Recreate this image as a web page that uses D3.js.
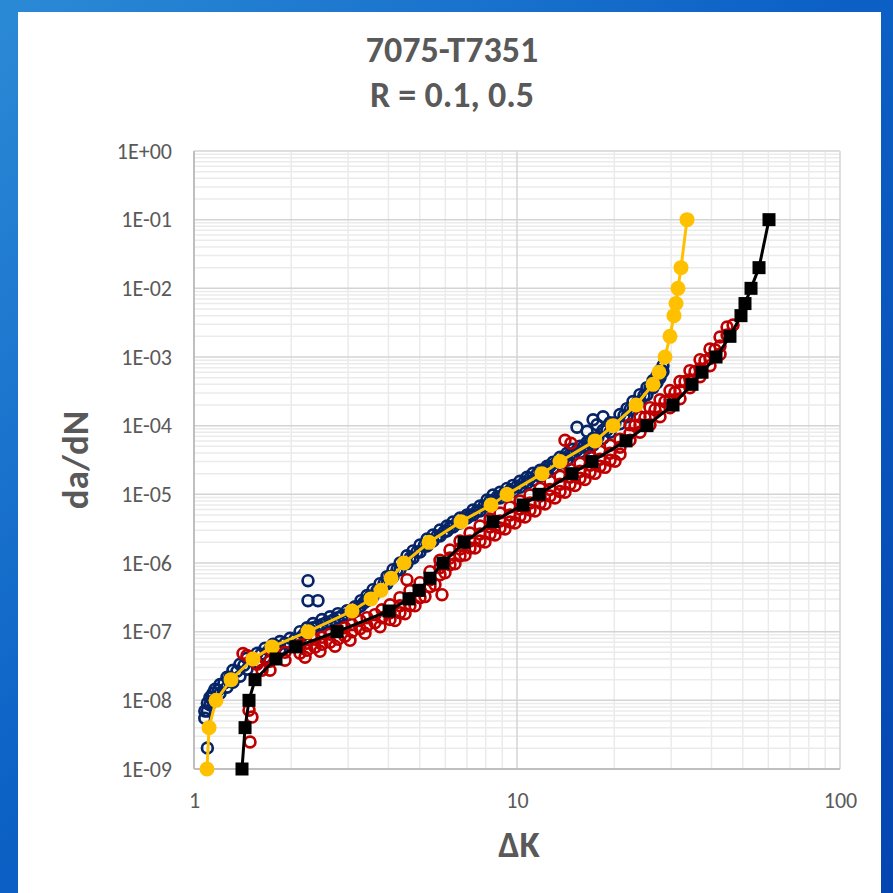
<!DOCTYPE html>
<html>
<head>
<meta charset="utf-8">
<script src="https://cdn.jsdelivr.net/npm/d3@7"></script>
<style>
  html, body { margin: 0; padding: 0; background: #0a56bd; }
  svg { display: block; }
  .lbl { font-family: Carlito, Calibri, "Liberation Sans Narrow", "DejaVu Sans Condensed", "Liberation Sans", sans-serif; fill: #595959; }
</style>
</head>
<body>
<svg id="chart" width="893" height="893"></svg>
<script>
// ---- data ----
const titleLines = ["7075-T7351", "R = 0.1, 0.5"];
const xTitle = "ΔK";
const yTitle = "da/dN";
const xTicks = [1, 10, 100];
const yTicks = [1e0, 1e-1, 1e-2, 1e-3, 1e-4, 1e-5, 1e-6, 1e-7, 1e-8, 1e-9];
const yTickLabels = ["1E+00", "1E-01", "1E-02", "1E-03", "1E-04", "1E-05", "1E-06", "1E-07", "1E-08", "1E-09"];

// da/dN levels shared by both fitted curves
const fitRates = [1e-9, 4e-9, 1e-8, 2e-8, 4e-8, 6e-8, 1e-7, 2e-7, 3e-7, 4e-7, 6e-7, 1e-6, 2e-6, 4e-6, 7e-6,
  1e-5, 2e-5, 3e-5, 6e-5, 1e-4, 2e-4, 4e-4, 6e-4, 1e-3, 2e-3, 4e-3, 6e-3, 1e-2, 2e-2, 1e-1];
// ΔK of the gold (circle) fit
const goldFitK = [1.097, 1.113, 1.170, 1.302, 1.522, 1.744, 2.254, 3.084, 3.532, 3.793, 4.074, 4.469, 5.341, 6.709, 8.31,
  9.311, 11.95, 13.59, 17.44, 19.83, 23.36, 26.37, 27.52, 28.72, 29.76, 30.62, 31.07, 31.51, 32.19, 33.60];
// ΔK of the black (square) fit
const blackFitK = [1.408, 1.439, 1.480, 1.545, 1.794, 2.069, 2.772, 4.016, 4.63, 4.973, 5.378, 5.90, 6.855, 8.428, 10.44,
  11.70, 14.80, 17.07, 21.75, 25.26, 30.41, 34.82, 37.40, 41.32, 45.64, 49.37, 50.80, 53.03, 56.14, 60.28];

// navy test points [ΔK, da/dN]
const navyPoints = [
  [1.08,7.0e-9],[1.08,5.5e-9],[1.10,9.1e-9],[1.10,7.0e-9],[1.12,1.1e-8],[1.12,8.6e-9],
  [1.145,1.27e-8],[1.145,9.8e-9],[1.162,1.45e-8],[1.162,1.03e-8],[1.204,1.7e-8],[1.204,1.27e-8],
  [1.265,2.16e-8],[1.265,1.55e-8],[1.32,2.74e-8],[1.32,1.83e-8],[1.388,3.35e-8],[1.388,2.24e-8],
  [1.459,4.1e-8],[1.459,2.83e-8],[1.567,4.84e-8],[1.567,3.58e-8],[1.659,5.72e-8],[1.659,4.23e-8],
  [1.757,6.54e-8],[1.757,5.0e-8],[1.846,7.2e-8],[1.846,5.53e-8],[1.983,8.0e-8],[1.983,6.33e-8],
  [2.129,1.0e-7],[2.129,8.0e-8],[2.238,1.14e-7],[2.238,9.46e-8],[2.336,1.31e-7],[2.336,1.14e-7],
  [2.490,1.5e-7],[2.490,1.27e-7],[2.637,1.65e-7],[2.637,1.4e-7],[2.791,1.83e-7],[2.791,1.6e-7],
  [2.977,2.02e-7],[2.977,1.77e-7],[3.151,2.31e-7],[3.151,1.96e-7],[3.289,2.83e-7],[3.289,2.39e-7],
  [3.433,3.35e-7],[3.433,2.83e-7],[3.583,4.09e-7],[3.583,3.24e-7],[3.766,5.0e-7],[3.766,3.96e-7],
  [3.958,6.33e-7],[3.958,5.0e-7],[4.131,8.0e-7],[4.131,6.33e-7],[4.342,1.0e-6],[4.342,8.0e-7],
  [4.564,1.27e-6],[4.564,9.8e-7],[4.764,1.5e-6],[4.764,1.18e-6],[5.008,1.83e-6],[5.008,1.45e-6],
  [5.265,2.24e-6],[5.265,1.77e-6],[5.495,2.56e-6],[5.495,2.09e-6],[5.775,3.03e-6],[5.775,2.47e-6],
  [6.071,3.46e-6],[6.071,2.93e-6],[6.337,3.96e-6],[6.337,3.35e-6],[6.661,4.53e-6],[6.661,3.83e-6],
  [7.002,5.0e-6],[7.002,4.53e-6],[7.308,5.92e-6],[7.308,5.0e-6],[7.682,6.77e-6],[7.682,5.72e-6],
  [8.075,8.27e-6],[8.075,6.77e-6],[8.428,9.8e-6],[8.428,8.0e-6],[8.859,1.07e-5],[8.859,8.85e-6],
  [9.311,1.22e-5],[9.311,1.0e-5],[9.719,1.35e-5],[9.719,1.1e-5],[10.21,1.55e-5],[10.21,1.27e-5],
  [10.74,1.77e-5],[10.74,1.45e-5],[11.21,2.02e-5],[11.21,1.6e-5],[11.79,2.24e-5],[11.79,1.83e-5],
  [12.39,2.56e-5],[12.39,2.09e-5],[12.93,2.93e-5],[12.93,2.39e-5],[13.59,3.46e-5],[13.59,2.83e-5],
  [14.29,3.96e-5],[14.29,3.13e-5],[14.91,4.53e-5],[14.91,3.7e-5],[15.67,5.0e-5],[15.67,4.09e-5],
  [16.48,5.72e-5],[16.48,4.68e-5],[17.20,6.54e-5],[17.20,5.17e-5],[18.47,8.56e-5],[18.47,6.54e-5],
  [19.41,1.1e-4],[19.41,8.0e-5],[20.84,1.45e-4],[20.84,1.07e-4],[21.91,1.77e-4],[21.91,1.35e-4],
  [22.86,2.24e-4],[22.86,1.71e-4],[24.03,2.83e-4],[24.03,2.24e-4],[25.26,3.58e-4],[25.26,2.83e-4],
  [26.37,4.53e-4],[26.37,3.58e-4],[27.13,5.35e-4],[27.13,4.23e-4],[27.72,6.33e-4],[27.72,5.0e-4],
  [28.31,7.48e-4],[28.31,6.12e-4],
  // middle of the band
  [1.137,1.1e-8],[1.187,1.4e-8],[1.238,1.77e-8],[1.293,2.16e-8],[1.359,2.65e-8],[1.428,3.24e-8],
  [1.512,3.96e-8],[1.612,4.68e-8],[1.707,5.35e-8],[1.807,6.12e-8],[1.913,6.77e-8],[2.054,7.74e-8],
  [2.191,9.15e-8],[2.287,1.07e-7],[2.420,1.22e-7],[2.563,1.35e-7],[2.713,1.5e-7],[2.872,1.71e-7],
  [3.062,1.96e-7],[3.242,2.31e-7],[3.360,2.65e-7],[3.507,3.24e-7],[3.686,3.96e-7],[3.874,5.0e-7],
  [4.045,6.33e-7],[4.252,8.0e-7],[4.469,1.0e-6],[4.663,1.18e-6],[4.901,1.45e-6],[5.153,1.77e-6],
  [5.378,2.09e-6],[5.654,2.47e-6],[5.943,2.83e-6],[6.202,3.35e-6],[6.521,3.83e-6],[6.855,4.38e-6],
  [7.153,5.0e-6],[7.518,5.72e-6],[7.904,6.77e-6],[8.250,8.0e-6],[8.674,9.15e-6],[9.116,1.03e-5],
  [9.513,1.14e-5],[10.0,1.31e-5],[10.51,1.5e-5],[10.97,1.71e-5],[11.53,1.96e-5],[12.12,2.24e-5],
  [12.65,2.56e-5],[13.30,2.93e-5],[13.98,3.35e-5],[14.59,3.83e-5],[15.34,4.38e-5],[16.12,5.0e-5],
  [16.83,5.72e-5],[17.81,6.77e-5],[18.99,8.56e-5],[20.11,1.1e-4],[21.45,1.4e-4],[22.38,1.71e-4],
  [23.52,2.16e-4],[24.73,2.74e-4],[25.81,3.58e-4],[26.74,4.38e-4],[27.52,5.35e-4],[28.11,6.33e-4],
  // stragglers
  [1.10,2.02e-9],[2.254,5.53e-7],[2.254,2.83e-7],[2.42,2.83e-7],
  [15.34,9.46e-5],[16.48,8.27e-5],[17.20,1.22e-4],[17.69,1.03e-4],[18.47,1.35e-4]
];

// red test points [ΔK, da/dN]
const redPoints = [
  [1.491,2.47e-9],[1.512,5.7e-9],[1.480,7.2e-9],[1.459,4.5e-8],[1.418,4.8e-8],
  [1.567,3.35e-8],[1.624,2.74e-8],[1.659,4.1e-8],[1.719,3.7e-8],[1.719,2.74e-8],
  [1.913,5.0e-8],[1.913,3.83e-8],[2.129,6.33e-8],[2.129,4.84e-8],[2.238,6.77e-8],[2.238,5.35e-8],
  [2.369,7.74e-8],[2.369,5.92e-8],[2.490,8.27e-8],[2.490,6.54e-8],[2.637,9.15e-8],[2.637,7.0e-8],
  [2.791,1.03e-7],[2.791,7.74e-8],[2.934,1.14e-7],[2.934,8.56e-8],[3.084,1.27e-7],[3.084,1.0e-7],
  [3.266,1.45e-7],[3.266,1.1e-7],[3.433,1.6e-7],[3.433,1.22e-7],[3.634,1.77e-7],[3.634,1.35e-7],
  [3.82,2.09e-7],[3.82,1.6e-7],
  [4.045,2.47e-7],[4.045,1.89e-7],[4.045,1.5e-7],[4.342,3.13e-7],[4.342,2.39e-7],[4.342,1.89e-7],
  [4.663,3.96e-7],[4.663,3.03e-7],[4.663,2.39e-7],[5.008,5.17e-7],[5.008,3.96e-7],[5.008,3.13e-7],
  [5.378,7.48e-7],[5.378,5.72e-7],[5.378,4.53e-7],[5.775,1.1e-6],[5.775,8.56e-7],[5.775,6.77e-7],
  [6.202,1.55e-6],[6.202,1.18e-6],[6.202,9.46e-7],[6.661,2.09e-6],[6.661,1.6e-6],[6.661,1.27e-6],
  [7.153,2.74e-6],[7.153,2.09e-6],[7.153,1.65e-6],[7.682,3.46e-6],[7.682,2.65e-6],[7.682,2.09e-6],
  [8.250,4.38e-6],[8.250,3.35e-6],[8.250,2.65e-6],[8.859,5.35e-6],[8.859,4.09e-6],[8.859,3.24e-6],
  [9.513,6.54e-6],[9.513,5.0e-6],[9.513,3.96e-6],[10.21,8.0e-6],[10.21,6.12e-6],[10.21,4.84e-6],
  [10.97,9.8e-6],[10.97,7.48e-6],[10.97,5.92e-6],[11.79,1.22e-5],[11.79,9.46e-6],[11.79,7.48e-6],
  [12.65,1.55e-5],[12.65,1.18e-5],[12.65,9.46e-6],[13.59,1.83e-5],[13.59,1.4e-5],[13.59,1.1e-5],
  [14.59,2.31e-5],[14.59,1.77e-5],[14.59,1.4e-5],[15.67,2.83e-5],[15.67,2.16e-5],[15.67,1.71e-5],
  [16.83,3.46e-5],[16.83,2.65e-5],[16.83,2.09e-5],[18.07,4.23e-5],[18.07,3.24e-5],[18.07,2.56e-5],
  [19.41,5.17e-5],[19.41,3.96e-5],[19.41,3.13e-5],[20.84,6.33e-5],[20.84,4.84e-5],[20.84,3.83e-5],
  [22.38,1.03e-4],[22.38,7.74e-5],[22.38,6.12e-5],[24.03,1.35e-4],[24.03,1.03e-4],[24.03,8.0e-5],
  [25.81,1.83e-4],[25.81,1.35e-4],[25.81,1.03e-4],[27.72,2.39e-4],[27.72,1.77e-4],[27.72,1.35e-4],
  [29.76,3.24e-4],[29.76,2.39e-4],[29.76,1.83e-4],[31.96,4.38e-4],[31.96,3.24e-4],[31.96,2.47e-4],
  [34.32,6.33e-4],[34.32,4.68e-4],[34.32,3.58e-4],[36.87,9.15e-4],[36.87,6.77e-4],[36.87,5.17e-4],
  [39.58,1.31e-3],[39.58,9.5e-4],[39.58,7.48e-4],[42.52,1.96e-3],[42.52,1.45e-3],[42.52,1.1e-3],
  [44.70,2.74e-3],[44.70,2.09e-3],[46.65,2.93e-3],
  // lower edge of the band
  [2.207,4.23e-8],[2.455,5.17e-8],[2.733,6.12e-8],[3.041,7.48e-8],[3.384,9.46e-8],[3.766,1.18e-7],
  [4.192,1.45e-7],[4.501,1.83e-7],[4.833,2.39e-7],[5.189,3.24e-7],[5.573,4.84e-7],[5.985,7.24e-7],
  [6.427,9.78e-7],[6.902,1.31e-6],[7.413,1.65e-6],[7.960,2.02e-6],[8.549,2.56e-6],[9.180,3.13e-6],
  [9.858,3.83e-6],[10.59,4.68e-6],[11.37,5.72e-6],[12.21,7.24e-6],[13.11,8.85e-6],[14.08,1.07e-5],
  [15.12,1.35e-5],[16.24,1.65e-5],[17.44,2.02e-5],[18.73,2.47e-5],[20.11,3.03e-5],
  // upper end, between the rows
  [23.19,1.0e-4],[24.90,1.31e-4],[26.74,1.71e-4],[28.72,2.24e-4],[30.84,3.03e-4],[33.13,4.38e-4],
  [35.57,6.12e-4],[38.20,8.85e-4],[41.02,1.27e-3],
  // stragglers
  [5.858,3.46e-7],[4.564,5.72e-7],[14.08,6.12e-5],[14.69,5.53e-5]
];

// ---- drawing ----
const svg = d3.select("#chart");
const W = 893, H = 893;
const margin = { top: 151, left: 194 };
const width = 646, height = 618;

const defs = svg.append("defs");
const grad = defs.append("linearGradient").attr("id", "frame")
  .attr("x1", "0").attr("y1", "0").attr("x2", "1").attr("y2", "1");
grad.append("stop").attr("offset", "0%").attr("stop-color", "#2b8ad6");
grad.append("stop").attr("offset", "45%").attr("stop-color", "#0d62c6");
grad.append("stop").attr("offset", "100%").attr("stop-color", "#0545b2");
svg.append("rect").attr("width", W).attr("height", H).attr("fill", "url(#frame)");
svg.append("rect").attr("x", 18).attr("y", 12).attr("width", 863).attr("height", 881).attr("fill", "#ffffff");

const xScale = d3.scaleLog().domain([1, 100]).range([0, width]);
const yScale = d3.scaleLog().domain([1e-9, 1]).range([height, 0]);

const g = svg.append("g").attr("transform", "translate(" + margin.left + "," + margin.top + ")");

const isMajor = v => Math.abs(Math.log10(v) - Math.round(Math.log10(v))) < 1e-9;

// minor grid first, major on top
const xGrid = xScale.ticks();
const yGrid = yScale.ticks();
g.append("g").selectAll("line").data(xGrid.filter(v => !isMajor(v))).join("line")
  .attr("x1", d => xScale(d)).attr("x2", d => xScale(d)).attr("y1", 0).attr("y2", height)
  .attr("stroke", "#ebebeb").attr("stroke-width", 1.5);
g.append("g").selectAll("line").data(yGrid.filter(v => !isMajor(v))).join("line")
  .attr("y1", d => yScale(d)).attr("y2", d => yScale(d)).attr("x1", 0).attr("x2", width)
  .attr("stroke", "#ebebeb").attr("stroke-width", 1.5);
g.append("g").selectAll("line").data(xGrid.filter(isMajor)).join("line")
  .attr("x1", d => xScale(d)).attr("x2", d => xScale(d)).attr("y1", 0).attr("y2", height)
  .attr("stroke", "#d4d4d4").attr("stroke-width", 1.5);
g.append("g").selectAll("line").data(yGrid.filter(isMajor)).join("line")
  .attr("y1", d => yScale(d)).attr("y2", d => yScale(d)).attr("x1", 0).attr("x2", width)
  .attr("stroke", "#d4d4d4").attr("stroke-width", 1.5);

// axis lines
g.append("line").attr("x1", 0).attr("x2", 0).attr("y1", 0).attr("y2", height)
  .attr("stroke", "#bfbfbf").attr("stroke-width", 2);
g.append("line").attr("x1", 0).attr("x2", width).attr("y1", height).attr("y2", height)
  .attr("stroke", "#bfbfbf").attr("stroke-width", 2);

// tick labels
const yAxis = g.append("g")
  .call(d3.axisLeft(yScale).tickValues(yTicks).tickFormat((d, i) => yTickLabels[i]).tickSize(0).tickPadding(22));
const xAxis = g.append("g").attr("transform", "translate(0," + height + ")")
  .call(d3.axisBottom(xScale).tickValues(xTicks).tickFormat(d3.format("d")).tickSize(0).tickPadding(23));
[yAxis, xAxis].forEach(a => {
  a.select(".domain").remove();
  a.selectAll("text").attr("class", "lbl").style("font-size", "22px").attr("fill", "#595959");
});

// scatter
g.append("g").selectAll("circle").data(navyPoints).join("circle")
  .attr("cx", d => xScale(d[0])).attr("cy", d => yScale(d[1])).attr("r", 5.4)
  .attr("fill", "none").attr("stroke", "#062466").attr("stroke-width", 2.7);
g.append("g").selectAll("circle").data(redPoints).join("circle")
  .attr("cx", d => xScale(d[0])).attr("cy", d => yScale(d[1])).attr("r", 5.4)
  .attr("fill", "none").attr("stroke", "#c00000").attr("stroke-width", 2.7);

// fitted curves
const line = d3.line().x(d => xScale(d[0])).y(d => yScale(d[1]));
const goldFit = goldFitK.map((k, i) => [k, fitRates[i]]);
const blackFit = blackFitK.map((k, i) => [k, fitRates[i]]);

g.append("path").datum(goldFit).attr("d", line)
  .attr("fill", "none").attr("stroke", "#ffc000").attr("stroke-width", 3);
g.append("g").selectAll("circle").data(goldFit).join("circle")
  .attr("cx", d => xScale(d[0])).attr("cy", d => yScale(d[1])).attr("r", 7.5)
  .attr("fill", "#ffc000");

g.append("path").datum(blackFit).attr("d", line)
  .attr("fill", "none").attr("stroke", "#000000").attr("stroke-width", 3);
g.append("g").selectAll("rect").data(blackFit).join("rect")
  .attr("x", d => xScale(d[0]) - 6.5).attr("y", d => yScale(d[1]) - 6.5)
  .attr("width", 13).attr("height", 13).attr("fill", "#000000");

// titles
svg.append("g").selectAll("text").data(titleLines).join("text")
  .attr("class", "lbl").attr("x", 452).attr("y", (d, i) => 62 + i * 45)
  .attr("text-anchor", "middle").style("font-size", "36px").style("font-weight", "bold")
  .text(d => d);
svg.append("text").attr("class", "lbl").attr("x", 519).attr("y", 857)
  .attr("text-anchor", "middle").style("font-size", "37px").style("font-weight", "bold")
  .text(xTitle);
svg.append("text").attr("class", "lbl")
  .attr("transform", "translate(88,460) rotate(-90)")
  .attr("text-anchor", "middle").style("font-size", "37px").style("font-weight", "bold")
  .text(yTitle);
</script>
</body>
</html>
